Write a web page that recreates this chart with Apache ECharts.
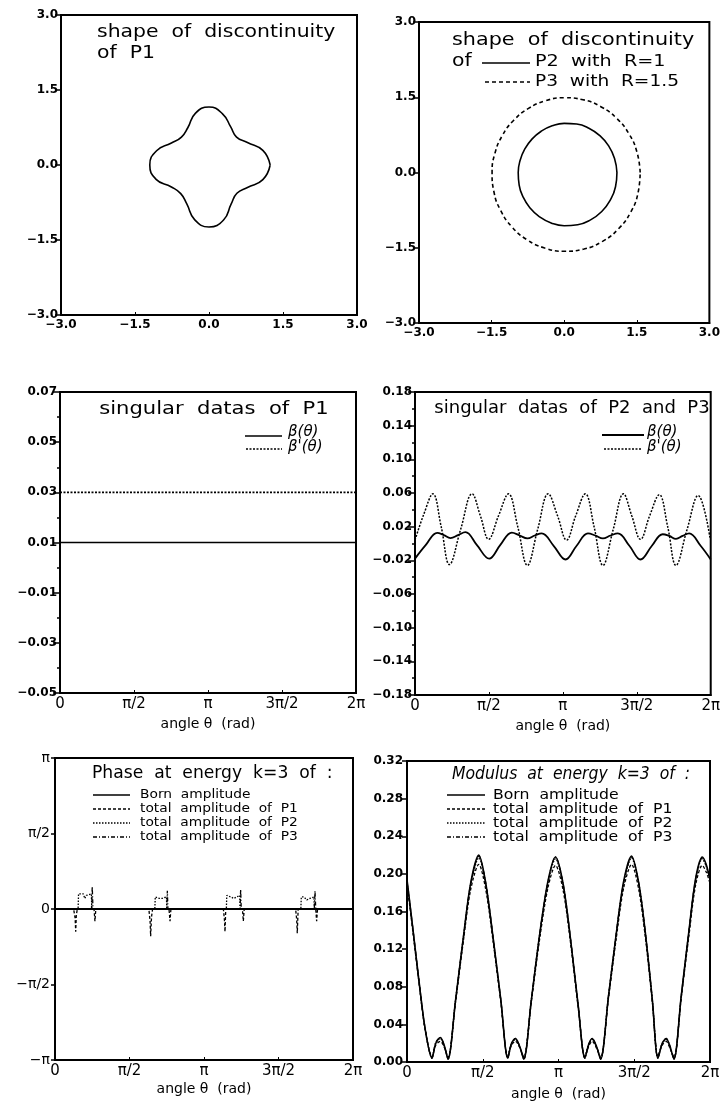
<!DOCTYPE html>
<html>
<head>
<meta charset="utf-8">
<script src="https://cdn.jsdelivr.net/npm/echarts@6/dist/echarts.min.js"></script>
<style>
html, body { margin: 0; padding: 0; background: #fff; }
#main { width: 723px; height: 1108px; }
</style>
</head>
<body>
<div id="main"></div>
<script>
// shapes of the discontinuities: radius read every 15 degrees
var shapeAngles = [0, 15, 30, 45, 60, 75, 90, 105, 120, 135, 150, 165, 180, 195, 210, 225, 240, 255, 270, 285, 300, 315, 330, 345];
var p1Radius = [1.24, 1.13, 0.9, 0.79, 0.88, 1.06, 1.16, 1.07, 0.86, 0.79, 0.88, 1.1, 1.2, 1.11, 0.88, 0.81, 0.9, 1.13, 1.24, 1.14, 0.9, 0.8, 0.9, 1.13];
var p2Radius = [1.09, 1.077, 1.061, 1.041, 1.02, 1.0, 0.98, 0.963, 0.95, 0.942, 0.939, 0.942, 0.95, 0.963, 0.979, 0.999, 1.02, 1.041, 1.06, 1.077, 1.09, 1.098, 1.1, 1.098];
var p3Radius = [1.57, 1.558, 1.545, 1.53, 1.515, 1.502, 1.49, 1.481, 1.475, 1.473, 1.475, 1.481, 1.49, 1.502, 1.515, 1.53, 1.545, 1.558, 1.57, 1.579, 1.585, 1.587, 1.585, 1.579];

// singular datas (angle in units of pi)
var p1Theta = [0, 2];
var betaP1 = [0.01, 0.01];
var betaPrimeP1 = [0.03, 0.03];

var betaTheta = [0, 0.072, 0.15, 0.195, 0.24, 0.291, 0.341, 0.419, 0.502, 0.576, 0.655, 0.708, 0.76, 0.81, 0.857, 0.939, 1.018, 1.092, 1.17, 1.22, 1.271, 1.322, 1.372, 1.451, 1.525, 1.601, 1.675, 1.72, 1.765, 1.81, 1.854, 1.933, 2.0];
var betaP23 = [-0.018, -0.002, 0.0127, 0.010, 0.0065, 0.010, 0.0135, -0.002, -0.018, -0.002, 0.013, 0.0095, 0.006, 0.0095, 0.012, -0.003, -0.019, -0.003, 0.012, 0.0095, 0.006, 0.0095, 0.012, -0.003, -0.019, -0.003, 0.011, 0.009, 0.0055, 0.009, 0.012, -0.003, -0.019];
var betaPrimeTheta = [0, 0.06, 0.121, 0.177, 0.233, 0.309, 0.386, 0.442, 0.498, 0.565, 0.632, 0.695, 0.76, 0.83, 0.901, 0.964, 1.025, 1.087, 1.152, 1.211, 1.271, 1.341, 1.41, 1.466, 1.525, 1.587, 1.652, 1.709, 1.765, 1.839, 1.915, 1.996];
var betaPrimeP23 = [0.004, 0.035, 0.059, 0.02, -0.025, 0.017, 0.059, 0.033, 0.005, 0.033, 0.059, 0.02, -0.026, 0.017, 0.059, 0.033, 0.004, 0.033, 0.059, 0.02, -0.026, 0.017, 0.059, 0.033, 0.005, 0.033, 0.058, 0.02, -0.026, 0.016, 0.057, 0.006];

// phase at k=3 (angle and phase both in units of pi)
var phaseBornTheta = [0, 2];
var phaseBorn = [0, 0];
var phaseP1Theta = [0, 0.125, 0.135, 0.139, 0.143, 0.15, 0.262, 0.268, 0.274, 0.63, 0.638, 0.642, 0.648, 0.655, 0.765, 0.772, 0.778, 1.13, 1.137, 1.141, 1.146, 1.258, 1.264, 1.27, 1.615, 1.622, 1.626, 1.632, 1.75, 1.756, 1.762, 2];
var phaseP1 = [0, 0, -0.06, -0.15, -0.04, 0, 0, -0.08, 0, 0, -0.08, -0.18, -0.05, 0, 0, -0.08, 0, 0, -0.07, -0.15, 0, 0, -0.08, 0, 0, -0.07, -0.16, 0, 0, -0.08, 0, 0];
var phaseP2Theta = [0, 0.155, 0.158, 0.19, 0.2, 0.21, 0.244, 0.247, 0.67, 0.673, 0.7, 0.71, 0.72, 0.748, 0.75, 1.15, 1.153, 1.18, 1.2, 1.24, 1.243, 1.65, 1.653, 1.67, 1.69, 1.71, 1.738, 1.741, 2];
var phaseP2 = [0, 0, 0.1, 0.1, 0.07, 0.09, 0.1, 0, 0, 0.08, 0.07, 0.06, 0.07, 0.08, 0, 0, 0.09, 0.08, 0.07, 0.09, 0, 0, 0.08, 0.08, 0.06, 0.07, 0.08, 0, 0];
var phaseP3Theta = [0, 0.245, 0.25, 0.255, 0.75, 0.754, 0.758, 1.242, 1.246, 1.25, 1.74, 1.745, 1.75, 2];
var phaseP3 = [0, 0, 0.15, 0, 0, 0.12, 0, 0, 0.13, 0, 0, 0.12, 0, 0];

// modulus at k=3 (angle in units of pi)
var modTheta = [0, 0.04, 0.08, 0.12, 0.165, 0.19, 0.22, 0.245, 0.271, 0.32, 0.37, 0.42, 0.474, 0.52, 0.57, 0.62, 0.665, 0.69, 0.716, 0.745, 0.771, 0.82, 0.875, 0.93, 0.98, 1.03, 1.08, 1.13, 1.174, 1.2, 1.222, 1.25, 1.278, 1.33, 1.38, 1.43, 1.482, 1.53, 1.575, 1.62, 1.656, 1.685, 1.711, 1.735, 1.762, 1.81, 1.86, 1.905, 1.949, 1.975, 2.0];
var modBorn = [0.194, 0.14, 0.085, 0.035, 0.004, 0.02, 0.026, 0.018, 0.003, 0.065, 0.13, 0.19, 0.22, 0.19, 0.13, 0.065, 0.004, 0.02, 0.025, 0.016, 0.003, 0.065, 0.135, 0.192, 0.218, 0.19, 0.13, 0.06, 0.004, 0.019, 0.025, 0.017, 0.003, 0.07, 0.135, 0.192, 0.219, 0.19, 0.135, 0.065, 0.004, 0.02, 0.025, 0.017, 0.003, 0.07, 0.138, 0.195, 0.218, 0.21, 0.194];
var modP1 = [0.19, 0.137, 0.083, 0.034, 0.006, 0.018, 0.022, 0.016, 0.005, 0.063, 0.126, 0.183, 0.21, 0.183, 0.126, 0.063, 0.006, 0.018, 0.022, 0.015, 0.005, 0.063, 0.13, 0.185, 0.209, 0.183, 0.126, 0.058, 0.006, 0.017, 0.022, 0.015, 0.005, 0.068, 0.13, 0.185, 0.21, 0.183, 0.13, 0.063, 0.006, 0.018, 0.022, 0.015, 0.005, 0.068, 0.133, 0.188, 0.209, 0.202, 0.19];
var modP2 = [0.193, 0.139, 0.084, 0.035, 0.005, 0.02, 0.025, 0.017, 0.004, 0.065, 0.129, 0.188, 0.217, 0.188, 0.129, 0.064, 0.005, 0.02, 0.024, 0.016, 0.004, 0.065, 0.134, 0.19, 0.216, 0.188, 0.129, 0.06, 0.005, 0.019, 0.024, 0.016, 0.004, 0.07, 0.134, 0.19, 0.217, 0.188, 0.134, 0.064, 0.005, 0.02, 0.024, 0.016, 0.004, 0.07, 0.137, 0.193, 0.216, 0.208, 0.193];
var modP3 = [0.194, 0.14, 0.085, 0.035, 0.004, 0.021, 0.026, 0.018, 0.003, 0.065, 0.13, 0.189, 0.219, 0.19, 0.13, 0.065, 0.004, 0.02, 0.025, 0.016, 0.003, 0.065, 0.135, 0.191, 0.218, 0.19, 0.13, 0.06, 0.004, 0.019, 0.025, 0.017, 0.003, 0.07, 0.135, 0.191, 0.218, 0.19, 0.135, 0.065, 0.004, 0.02, 0.025, 0.017, 0.003, 0.07, 0.138, 0.194, 0.217, 0.209, 0.194];

// tick labels
var angleTickLabels = {0: '0', 0.5: 'π/2', 1: 'π', 1.5: '3π/2', 2: '2π'};
var phaseTickLabels = {'-1': '−π', '-0.5': '−π/2', 0: '0', 0.5: 'π/2', 1: 'π'};
var singP1Ticks = [-0.05, -0.03, -0.01, 0.01, 0.03, 0.05, 0.07];
var singP23Ticks = [-0.18, -0.14, -0.10, -0.06, -0.02, 0.02, 0.06, 0.10, 0.14, 0.18];

var FONT = 'DejaVu Sans';

function pairs(xs, ys) {
    return xs.map(function (x, i) { return [x, ys[i]]; });
}
function closedShape(angles, radii) {
    var pts = angles.map(function (a, i) {
        var t = a * Math.PI / 180;
        return [radii[i] * Math.cos(t), radii[i] * Math.sin(t)];
    });
    pts.push(pts[0]);
    return pts;
}
function num(d) {
    return function (v) { return v.toFixed(d).replace('-', '−'); };
}

var grids = [
    {left: 61, top: 15, width: 296, height: 300},
    {left: 419, top: 22, width: 296, height: 301},
    {left: 60, top: 392, width: 296, height: 301},
    {left: 415, top: 392, width: 299, height: 303},
    {left: 55, top: 758, width: 298, height: 302},
    {left: 407, top: 761, width: 303, height: 301}
].map(function (g) {
    g.show = true;
    g.borderColor = '#000';
    g.borderWidth = 2;
    return g;
});

var axisLine = {show: true, onZero: false, lineStyle: {color: '#000', width: 2}};
var numLabel = {color: '#000', fontFamily: FONT, fontSize: 12, fontWeight: 'bold'};

function xAxisShape(gi) {
    return {
        gridIndex: gi, type: 'value', min: -3, max: 3, interval: 1.5,
        axisLine: axisLine, splitLine: {show: false},
        axisTick: {inside: true, length: 3, lineStyle: {color: '#000'}},
        axisLabel: Object.assign({margin: 4, formatter: num(1)}, numLabel)
    };
}
function yAxisShape(gi) {
    return {
        gridIndex: gi, type: 'value', min: -3, max: 3, interval: 1.5,
        axisLine: axisLine, splitLine: {show: false},
        axisTick: {length: 6, lineStyle: {color: '#000', width: 1.5}},
        axisLabel: Object.assign({margin: 3, formatter: num(1)}, numLabel)
    };
}
function xAxisAngle(gi, gap) {
    return {
        gridIndex: gi, type: 'value', min: 0, max: 2, interval: 0.5,
        axisLine: axisLine, splitLine: {show: false},
        axisTick: {inside: true, length: 3, lineStyle: {color: '#000'}},
        axisLabel: {margin: 4, color: '#000', fontFamily: FONT, fontSize: 15,
            formatter: function (v) { return angleTickLabels[v]; }},
        name: 'angle θ  (rad)', nameLocation: 'middle', nameGap: gap,
        nameTextStyle: {color: '#000', fontFamily: FONT, fontSize: 14}
    };
}

var option = {
    backgroundColor: '#fff',
    animation: false,
    grid: grids,
    xAxis: [
        xAxisShape(0), xAxisShape(1),
        xAxisAngle(2, 24), xAxisAngle(3, 24), xAxisAngle(4, 22), xAxisAngle(5, 25)
    ],
    yAxis: [
        yAxisShape(0), yAxisShape(1),
        {
            gridIndex: 2, type: 'value', min: -0.05, max: 0.07,
            axisLine: axisLine, splitLine: {show: false},
            axisTick: {length: 7, customValues: singP1Ticks, lineStyle: {color: '#000', width: 1.5}},
            axisLabel: Object.assign({margin: 3, customValues: singP1Ticks, formatter: num(2)}, numLabel)
        },
        {
            gridIndex: 3, type: 'value', min: -0.18, max: 0.18,
            axisLine: axisLine, splitLine: {show: false},
            axisTick: {length: 7, customValues: singP23Ticks, lineStyle: {color: '#000', width: 1.5}},
            axisLabel: Object.assign({margin: 3, customValues: singP23Ticks, formatter: num(2)}, numLabel)
        },
        {
            gridIndex: 4, type: 'value', min: -1, max: 1, interval: 0.5,
            axisLine: axisLine, splitLine: {show: false},
            axisTick: {length: 4, lineStyle: {color: '#000', width: 1.5}},
            axisLabel: {margin: 5, color: '#000', fontFamily: FONT, fontSize: 14,
                formatter: function (v) { return phaseTickLabels[v]; }}
        },
        {
            gridIndex: 5, type: 'value', min: 0, max: 0.32, interval: 0.04,
            axisLine: axisLine, splitLine: {show: false},
            axisTick: {length: 5, lineStyle: {color: '#000', width: 1.5}},
            axisLabel: Object.assign({margin: 4, formatter: num(2)}, numLabel)
        },
        // minor ticks of the two "singular datas" panels
        {
            gridIndex: 2, type: 'value', min: -0.05, max: 0.07, interval: 0.01, position: 'left', offset: 0,
            axisLine: {show: false, onZero: false}, splitLine: {show: false}, axisLabel: {show: false},
            axisTick: {length: 3, lineStyle: {color: '#000', width: 1.5}}
        },
        {
            gridIndex: 3, type: 'value', min: -0.18, max: 0.18, interval: 0.02, position: 'left', offset: 0,
            axisLine: {show: false, onZero: false}, splitLine: {show: false}, axisLabel: {show: false},
            axisTick: {length: 3, lineStyle: {color: '#000', width: 1.5}}
        }
    ],
    series: [
        {type: 'line', xAxisIndex: 0, yAxisIndex: 0, data: closedShape(shapeAngles, p1Radius),
            smooth: 0.5, showSymbol: false, lineStyle: {color: '#000', width: 1.6}},
        {type: 'line', xAxisIndex: 1, yAxisIndex: 1, data: closedShape(shapeAngles, p2Radius),
            smooth: 0.5, showSymbol: false, lineStyle: {color: '#000', width: 1.6}},
        {type: 'line', xAxisIndex: 1, yAxisIndex: 1, data: closedShape(shapeAngles, p3Radius),
            smooth: 0.5, showSymbol: false, lineStyle: {color: '#000', width: 1.6, type: [4, 3]}},

        {type: 'line', xAxisIndex: 2, yAxisIndex: 2, data: pairs(p1Theta, betaP1),
            showSymbol: false, lineStyle: {color: '#000', width: 1.6}},
        {type: 'line', xAxisIndex: 2, yAxisIndex: 2, data: pairs(p1Theta, betaPrimeP1),
            showSymbol: false, lineStyle: {color: '#000', width: 1.6, type: [2, 1.5]}},

        {type: 'line', xAxisIndex: 3, yAxisIndex: 3, data: pairs(betaTheta, betaP23),
            smooth: 0.4, showSymbol: false, lineStyle: {color: '#000', width: 1.8}},
        {type: 'line', xAxisIndex: 3, yAxisIndex: 3, data: pairs(betaPrimeTheta, betaPrimeP23),
            smooth: 0.4, showSymbol: false, lineStyle: {color: '#000', width: 1.5, type: [2, 1.5]}},

        {type: 'line', xAxisIndex: 4, yAxisIndex: 4, data: pairs(phaseBornTheta, phaseBorn),
            showSymbol: false, lineStyle: {color: '#000', width: 2}},
        {type: 'line', xAxisIndex: 4, yAxisIndex: 4, data: pairs(phaseP1Theta, phaseP1),
            showSymbol: false, lineStyle: {color: '#000', width: 1.3, type: [3, 2]}},
        {type: 'line', xAxisIndex: 4, yAxisIndex: 4, data: pairs(phaseP2Theta, phaseP2),
            showSymbol: false, lineStyle: {color: '#000', width: 1.3, type: [1.5, 1.5]}},
        {type: 'line', xAxisIndex: 4, yAxisIndex: 4, data: pairs(phaseP3Theta, phaseP3),
            showSymbol: false, lineStyle: {color: '#000', width: 1.3, type: [4, 2, 1, 2]}},

        {type: 'line', xAxisIndex: 5, yAxisIndex: 5, data: pairs(modTheta, modP1),
            smooth: 0.3, showSymbol: false, lineStyle: {color: '#000', width: 1.3, type: [3, 2]}},
        {type: 'line', xAxisIndex: 5, yAxisIndex: 5, data: pairs(modTheta, modP2),
            smooth: 0.3, showSymbol: false, lineStyle: {color: '#000', width: 1.3, type: [1.5, 1.5]}},
        {type: 'line', xAxisIndex: 5, yAxisIndex: 5, data: pairs(modTheta, modP3),
            smooth: 0.3, showSymbol: false, lineStyle: {color: '#000', width: 1.3, type: [4, 2, 1, 2]}},
        {type: 'line', xAxisIndex: 5, yAxisIndex: 5, data: pairs(modTheta, modBorn),
            smooth: 0.3, showSymbol: false, lineStyle: {color: '#000', width: 1.6}}
    ],
    graphic: []
};

// titles and hand-placed legends
function txt(x, y, s, font, align, sx) {
    option.graphic.push({type: 'text', x: x, y: y, scaleX: sx || 1, silent: true,
        style: {text: s, font: font || ('17px ' + FONT), fill: '#000', align: align || 'left', verticalAlign: 'middle'}});
}
function seg(x1, x2, y, dash, w) {
    option.graphic.push({type: 'line', silent: true, shape: {x1: x1, y1: y, x2: x2, y2: y},
        style: {stroke: '#000', lineWidth: w || 1.5, lineDash: dash || null}});
}

txt(97, 33, 'shape  of  discontinuity', null, 'left', 1.2);
txt(97, 54, 'of  P1', null, 'left', 1.2);

txt(452, 41, 'shape  of  discontinuity', null, 'left', 1.22);
txt(452, 62, 'of', null, 'left', 1.2);
seg(482, 530, 63, null, 1.6);
txt(535, 62, 'P2  with  R=1', '16px ' + FONT, 'left', 1.2);
seg(485, 530, 82, [4, 3], 1.6);
txt(535, 82, 'P3  with  R=1.5', '16px ' + FONT, 'left', 1.16);

txt(214, 410, 'singular  datas  of  P1', null, 'center', 1.24);
seg(245, 282, 436, null, 1.6);
txt(288, 432, 'β(θ)', 'italic 15px ' + FONT);
seg(246, 282, 449, [2, 1.5], 1.6);
txt(288, 447, "β'(θ)", 'italic 15px ' + FONT);

txt(572, 409, 'singular  datas  of  P2  and  P3', null, 'center', 1.06);
seg(602, 644, 435, null, 2);
txt(647, 432, 'β(θ)', 'italic 15px ' + FONT);
seg(604, 642, 449, [2, 1.5], 1.5);
txt(647, 447, "β'(θ)", 'italic 15px ' + FONT);

var legendNames = ['Born  amplitude', 'total  amplitude  of  P1', 'total  amplitude  of  P2', 'total  amplitude  of  P3'];
var legendDash = [null, [3, 2], [1.5, 1.5], [4, 2, 1, 2]];
var legendRows = [795, 809, 823, 837];

txt(92, 774, 'Phase  at  energy  k=3  of  :', null, 'left', 1.01);
txt(452, 775, 'Modulus  at  energy  k=3  of  :', 'italic 17px ' + FONT, 'left', 0.92);
legendRows.forEach(function (y, i) {
    seg(93, 130, y, legendDash[i], 1.4);
    txt(140, y, legendNames[i], '13px ' + FONT, 'left', 1.06);
    seg(447, 485, y, legendDash[i], 1.4);
    txt(493, y, legendNames[i], '14px ' + FONT, 'left', 1.12);
});

var myChart = echarts.init(document.getElementById('main'), null, {renderer: 'canvas'});
myChart.setOption(option);
</script>
</body>
</html>
